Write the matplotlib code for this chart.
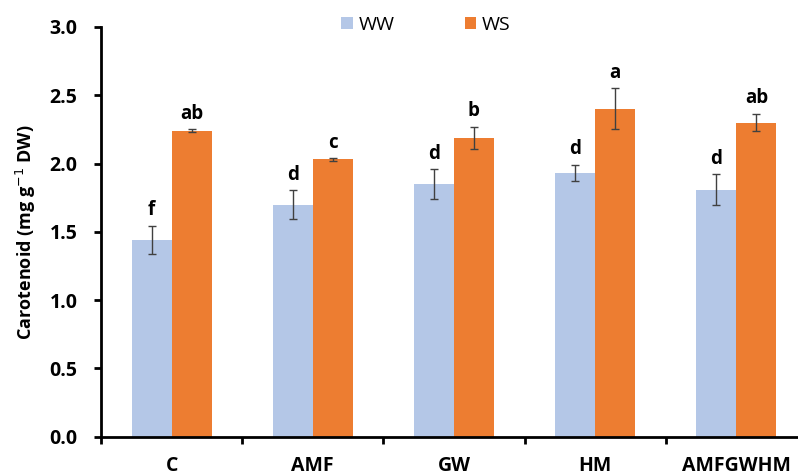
import matplotlib.pyplot as plt
import numpy as np

plt.rcParams['font.family'] = ['Open Sans', 'DejaVu Sans']

treatments = ['C', 'AMF', 'GW', 'HM', 'AMFGWHM']
ww_mean = [1.44, 1.70, 1.85, 1.93, 1.81]
ww_err = [0.105, 0.105, 0.11, 0.06, 0.11]
ws_mean = [2.24, 2.03, 2.19, 2.40, 2.30]
ws_err = [0.01, 0.01, 0.08, 0.15, 0.065]
ww_letters = ['f', 'd', 'd', 'd', 'd']
ws_letters = ['ab', 'c', 'b', 'a', 'ab']

W, H = 798, 475
fig = plt.figure(figsize=(W / 100, H / 100), dpi=100)
ax = fig.add_axes([101 / W, (H - 436.7) / H, (807 - 101) / W, (436.7 - 27) / H])

x = np.arange(len(treatments))
bw = 0.283
err_kw = dict(ecolor='#404040', elinewidth=1, capsize=3, capthick=1)
ax.bar(x - bw / 2, ww_mean, bw, yerr=ww_err, color='#B4C7E7', label='WW',
       error_kw=err_kw)
ax.bar(x + bw / 2, ws_mean, bw, yerr=ws_err, color='#ED7D31', label='WS',
       error_kw=err_kw)

# significance letters above each error bar
for i in range(len(treatments)):
    ax.text(x[i] - bw / 2, ww_mean[i] + ww_err[i] + 0.04, ww_letters[i],
            ha='center', va='bottom', fontsize=13.5, fontweight='bold')
    ax.text(x[i] + bw / 2, ws_mean[i] + ws_err[i] + 0.04, ws_letters[i],
            ha='center', va='bottom', fontsize=13.5, fontweight='bold')

ax.set_xlim(-0.5, 4.5)
ax.set_ylim(0, 3.0)
yt = np.arange(0, 3.01, 0.5)
ax.set_yticks(yt)
ax.set_yticklabels([f'{v:.1f}' for v in yt], fontsize=14, fontweight='bold')
ax.set_xticks(x)
ax.set_xticklabels(treatments, fontsize=14, fontweight='bold')
ax.set_xticks(np.arange(-0.5, 5, 1), minor=True)
ax.tick_params(axis='x', which='major', length=0, pad=14)
ax.tick_params(axis='x', which='minor', length=5, width=2, direction='out')
ax.tick_params(axis='y', length=5, width=2, pad=12)

for s in ['top', 'right']:
    ax.spines[s].set_visible(False)
for s in ['left', 'bottom']:
    ax.spines[s].set_linewidth(2)

ax.set_ylabel('Carotenoid (mg g$^{-1}$ DW)', fontsize=13, fontweight='bold')
ax.yaxis.set_label_coords(-(101 - 38) / 706, 0.5)

fig.legend(loc='center', bbox_to_anchor=(426 / W, 1 - 25 / H), ncol=2,
           frameon=False, fontsize=14, handlelength=0.6, handleheight=0.6,
           columnspacing=3.6, handletextpad=0.3)

fig.savefig('out.png', dpi=100)
